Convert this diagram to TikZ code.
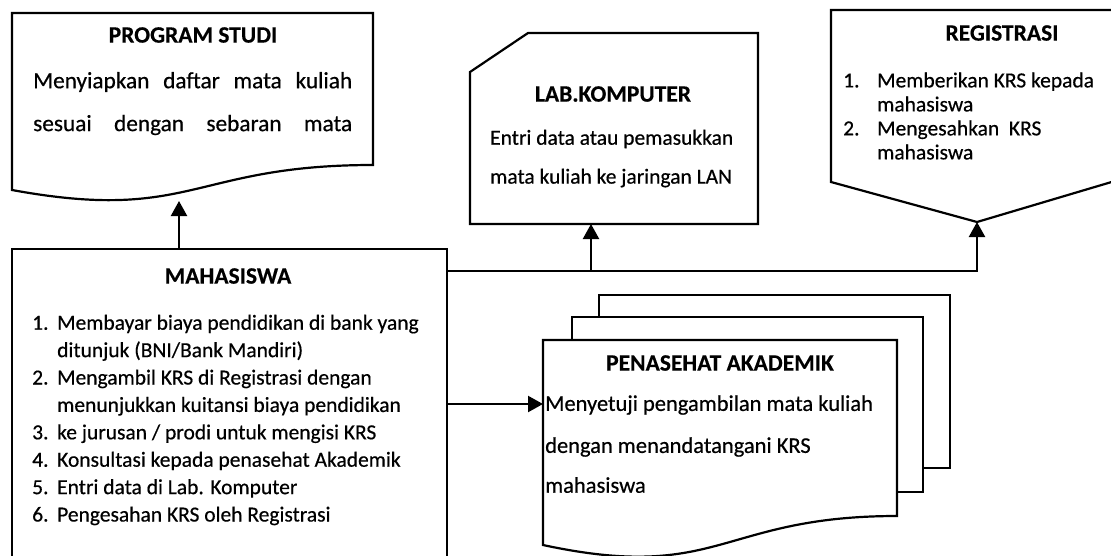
\documentclass[tikz,border=0pt]{standalone}
\usepackage{fontspec}
\setmainfont{Carlito}
\newfontfamily\bodyfont{Carlito}[FakeBold=0.5]
\newfontfamily\headfont{Carlito Bold}[FakeBold=0.3]
\usetikzlibrary{arrows.meta}
\begin{document}
\begin{tikzpicture}[x=1pt,y=-1pt,
  outline/.style={draw=black, line width=2.2pt, line join=miter, fill=white},
  link/.style={draw=black, line width=2.2pt},
  arr/.style={link, -{Triangle[width=16pt,length=15pt]}},
  title/.style={font=\fontsize{23.5}{28}\selectfont\headfont, inner sep=0pt},
  body/.style={font=\fontsize{21.5}{27.4}\selectfont\bodyfont, inner sep=0pt, align=left},
]
\useasboundingbox (0,0) rectangle (1111,555);
\clip (0,0) rectangle (1111,555);

% ---------- PROGRAM STUDI (document shape) ----------
\draw[outline] (12,13) -- (373,13) -- (373,165)
  .. controls (192,165) and (192,223) .. (12,190) -- cycle;
\node[title] (ps-title) at (193,35) {PROGRAM STUDI};
\node[body, anchor=west, font=\fontsize{23.3}{28}\selectfont\bodyfont] (ps-l1) at (33,82)
  {\makebox[319pt][s]{Menyiapkan daftar mata kuliah}};
\node[body, anchor=west, font=\fontsize{23.3}{28}\selectfont\bodyfont] (ps-l2) at (33,125)
  {\makebox[319pt][s]{sesuai dengan sebaran mata}};
\coordinate (ps-in) at (179,201);

% ---------- LAB.KOMPUTER (card shape) ----------
\draw[outline] (470,72) -- (528,33) -- (758,33) -- (758,224) -- (470,224) -- cycle;
\node[title] (lab-title) at (613,94) {LAB.KOMPUTER};
\node[body, anchor=west] (lab-l1) at (490,139) {Entri data atau pemasukkan};
\node[body, anchor=west] (lab-l2) at (490,178) {mata kuliah ke jaringan LAN};
\coordinate (lab-in) at (591,224);

% ---------- REGISTRASI (off-page connector) ----------
\draw[outline] (831,10) -- (1125,10) -- (1125,178) -- (977,222) -- (831,182) -- cycle;
\node[title] (reg-title) at (1002,33) {REGISTRASI};
\node[body, anchor=west, font=\fontsize{21.5}{24}\selectfont\bodyfont] (reg-list) at (843,116)
  {\makebox[34pt][l]{1.}Memberikan KRS kepada\\
   \hspace*{34pt}mahasiswa\\
   \makebox[34pt][l]{2.}Mengesahkan\ \ KRS\\
   \hspace*{34pt}mahasiswa};
\coordinate (reg-in) at (977,222);

% ---------- MAHASISWA (process box, runs off the bottom) ----------
\node[draw=black, line width=2.2pt, rectangle, minimum width=435pt, minimum height=340pt,
      anchor=north west, inner sep=0pt] (mhs) at (11,248) {};
\node[title] (mhs-title) at (228,276) {MAHASISWA};
\node[body, anchor=west] (mhs-list) at (32,420)
  {\makebox[25pt][l]{1.}Membayar biaya pendidikan di bank yang\\
   \hspace*{25pt}ditunjuk (BNI/Bank Mandiri)\\
   \makebox[25pt][l]{2.}Mengambil KRS di Registrasi dengan\\
   \hspace*{25pt}menunjukkan kuitansi biaya pendidikan\\
   \makebox[25pt][l]{3.}ke jurusan / prodi untuk mengisi KRS\\
   \makebox[25pt][l]{4.}Konsultasi kepada penasehat Akademik\\
   \makebox[25pt][l]{5.}Entri data di Lab. Komputer\\
   \makebox[25pt][l]{6.}Pengesahan KRS oleh Registrasi};

% ---------- PENASEHAT AKADEMIK (multi-document) ----------
\draw[outline] (599,295) rectangle (950,468);
\draw[outline] (572,317) rectangle (923,492);
\draw[outline] (543,340) -- (897,340) -- (897,516)
  .. controls (720,516) and (720,583) .. (543,545) -- cycle;
\node[title] (pa-title) at (720,363) {PENASEHAT AKADEMIK};
\node[body, anchor=west, font=\fontsize{22.5}{27}\selectfont\bodyfont] (pa-l1) at (545,405) {Menyetuji pengambilan mata kuliah};
\node[body, anchor=west, font=\fontsize{22.5}{27}\selectfont\bodyfont] (pa-l2) at (545,447) {dengan menandatangani KRS};
\node[body, anchor=west, font=\fontsize{22.5}{27}\selectfont\bodyfont] (pa-l3) at (545,485) {mahasiswa};
\coordinate (pa-in) at (543,404);

% ---------- connectors ----------
\coordinate (fork) at (591,271);
\draw[arr] (mhs.north -| ps-in) -- (ps-in);
\draw[arr] (mhs.east |- fork) -| (reg-in);
\draw[arr] (fork) -- (lab-in);
\draw[arr] (mhs.east |- pa-in) -- (pa-in);
\end{tikzpicture}
\end{document}
